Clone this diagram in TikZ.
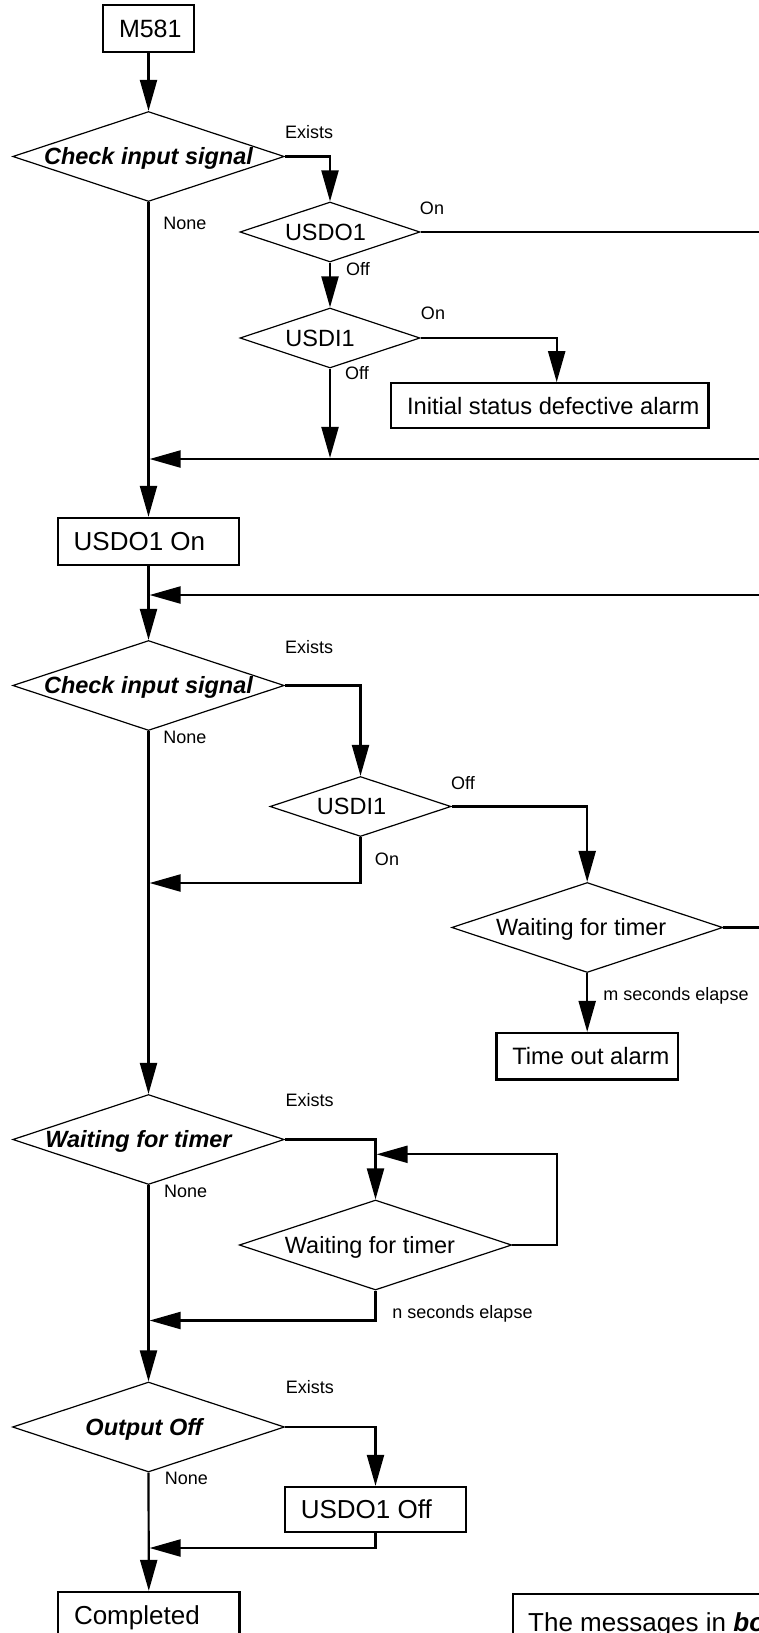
\documentclass[tikz,border=0pt]{standalone}
\usepackage{fontspec}
\setmainfont{Liberation Sans}
\usetikzlibrary{shapes.geometric,arrows.meta,calc}

% zero-width centred text, moved left by half of #1
\newcommand{\ctxt}[2]{\makebox[0pt]{\hspace*{-#1}#2}}
% left-aligned text in a box of fixed width (may run past it)
\newcommand{\lbox}[2]{\makebox[#1][l]{#2}}

\begin{document}
\begin{tikzpicture}[x=1pt,y=-1pt,
  conn/.style={line width=2.2pt,-{Triangle[length=31pt,width=17pt]}},
  wire/.style={line width=2.2pt},
  decision/.style={draw,line width=1.2pt,shape=diamond,inner sep=0pt,
    text height=16.8pt,text depth=0pt,font=\fontsize{23.5}{28}\selectfont},
  query/.style={decision,font=\fontsize{23.5}{28}\selectfont\bfseries\itshape},
  stepbox/.style={draw,line width=2.3pt,rectangle,inner xsep=16pt,inner ysep=0pt,
    text height=18.6pt,text depth=0pt,font=\fontsize{26}{30}\selectfont},
  tag/.style={inner sep=0pt,text height=13pt,text depth=0pt,font=\fontsize{18}{21}\selectfont},
]
\useasboundingbox (0,0) rectangle (759,1633);
\fill[white] (0,0) rectangle (759,1633);
\clip (0,0) rectangle (759,1633);

% ---------- start and first input check ----------
\node[stepbox,minimum height=47pt,font=\fontsize{25}{30}\selectfont,text height=17.9pt]
  (m581) at (148.5,28.5) {\lbox{59pt}{M581}};
\node[query,minimum width=271.5pt,minimum height=90pt] (d1) at (148.5,156.5)
  {\ctxt{0pt}{Check input signal}};
\node[decision,minimum width=180pt,minimum height=60pt] (usdo1) at (330,232)
  {\ctxt{9pt}{USDO1}};
\node[decision,minimum width=180pt,minimum height=60pt] (usdi1) at (330,338)
  {\ctxt{20pt}{USDI1}};
\node[stepbox,minimum height=45pt,font=\fontsize{23.7}{28}\selectfont,text height=17pt]
  (alarm) at (549.7,405.8) {\lbox{285.3pt}{Initial status defective alarm}};

\node[tag] (ex1) at (309,132) {Exists};
\node[tag] (no1) at (185,223) {None};
\node[tag] (on1) at (432,208) {On};
\node[tag] (of1) at (358,269) {Off};
\node[tag] (on2) at (433,313) {On};
\node[tag] (of2) at (357,373) {Off};

% ---------- output on and second input check ----------
\node[stepbox,minimum height=47pt] (usdoOn) at (148.5,541.5) {\lbox{149.6pt}{USDO1 On}};
\node[query,minimum width=271.5pt,minimum height=90pt] (d2) at (148.5,685.5)
  {\ctxt{0pt}{Check input signal}};
\node[decision,minimum width=181pt,minimum height=60pt] (usdi1b) at (360.5,806.5)
  {\ctxt{18pt}{USDI1}};
\node[decision,minimum width=271pt,minimum height=90pt] (wft) at (587.2,927.5)
  {\ctxt{12pt}{Waiting for timer}};
\node[stepbox,minimum height=46.3pt,font=\fontsize{23.7}{28}\selectfont,text height=17pt]
  (tout) at (587.2,1056.2) {\lbox{149.7pt}{Time out alarm}};

\node[tag] (ex2) at (309,647) {Exists};
\node[tag] (no2) at (185,737) {None};
\node[tag] (of3) at (463,783) {Off};
\node[tag] (on3) at (387,859) {On};
\node[tag] (msec) at (676,994) {m seconds elapse};

% ---------- timer wait ----------
\node[query,minimum width=271.5pt,minimum height=90pt] (d3) at (148.5,1139.5)
  {\ctxt{20pt}{Waiting for timer}};
\node[decision,minimum width=272.4pt,minimum height=90pt] (wft2) at (375.5,1245)
  {\ctxt{11pt}{Waiting for timer}};

\node[tag] (ex3) at (309.6,1100) {Exists};
\node[tag] (no3) at (185.7,1191) {None};
\node[tag] (nsec) at (462.5,1312) {n seconds elapse};

% ---------- output off and end ----------
\node[query,minimum width=272pt,minimum height=90pt] (d4) at (148.5,1427)
  {\ctxt{9pt}{Output Off}};
\node[stepbox,minimum height=45pt] (usdoOff) at (375.5,1509.5) {\lbox{149.4pt}{USDO1 Off}};
\node[stepbox,minimum height=47pt] (done) at (148.8,1615.5) {\lbox{149.6pt}{Completed}};
\node[draw,line width=2.3pt,inner sep=0pt,anchor=north west,minimum width=320pt,
  minimum height=120pt] (note) at (512,1592.7) {};
\node[inner sep=0pt,anchor=base west,font=\fontsize{26}{30}\selectfont] (notetext)
  at (528,1631.5) {The messages in \textbf{\textit{bold}}};

\node[tag] (ex4) at (309.8,1387) {Exists};
\node[tag] (no4) at (186.3,1478) {None};

% ---------- junctions and page-edge ends ----------
\coordinate (r1) at (775,232);
\coordinate (r2) at (775,459);
\coordinate (j1) at (148.5,459);
\coordinate (r3) at (775,595);
\coordinate (j2) at (148.5,595);
\coordinate (j3) at (148.5,883);
\coordinate (r4) at (775,927.5);
\coordinate (loopc) at (557,1154.3);
\coordinate (j4) at (148.5,1320.5);
\coordinate (j5) at (148.5,1548);

% ---------- connectors ----------
\draw[conn] (m581.south) -- (d1.north);
\draw[conn] (d1.east) -| (usdo1.north);
\draw[wire] (usdo1.east) -- (r1);
\draw[conn] (usdo1.south) -- (usdi1.north);
\draw[conn] (usdi1.east) -| ($(alarm.north)+(7,0)$);
\draw[conn,shorten >=1.1pt] (usdi1.south) -- (usdi1.south |- j1);
\draw[conn,shorten >=1.1pt] (r2) -- (j1);
\draw[conn] (d1.south) -- (usdoOn.north);

\draw[conn,shorten >=1.1pt] (r3) -- (j2);
\draw[conn] (usdoOn.south) -- (d2.north);
\draw[conn] (d2.east) -| (usdi1b.north);
\draw[conn] (usdi1b.east) -| (wft.north);
\draw[conn,shorten >=1.1pt] (usdi1b.south) |- (j3);
\draw[wire] (wft.east) -- (r4);
\draw[conn] (wft.south) -- (tout.north);

\draw[conn] (d2.south) -- (d3.north);
\draw[conn] (d3.east) -| (wft2.north);
\draw[conn,shorten >=1.1pt] (wft2.east) -| (loopc) -- (loopc -| wft2.north);
\draw[conn,shorten >=1.1pt] (wft2.south) |- (j4);

\draw[conn] (d3.south) -- (d4.north);
\draw[conn] (d4.east) -| (usdoOff.north);
\draw[conn,shorten >=1.1pt] (usdoOff.south) |- (j5);
\draw[conn] (d4.south) -- (done.north);
\end{tikzpicture}
\end{document}
